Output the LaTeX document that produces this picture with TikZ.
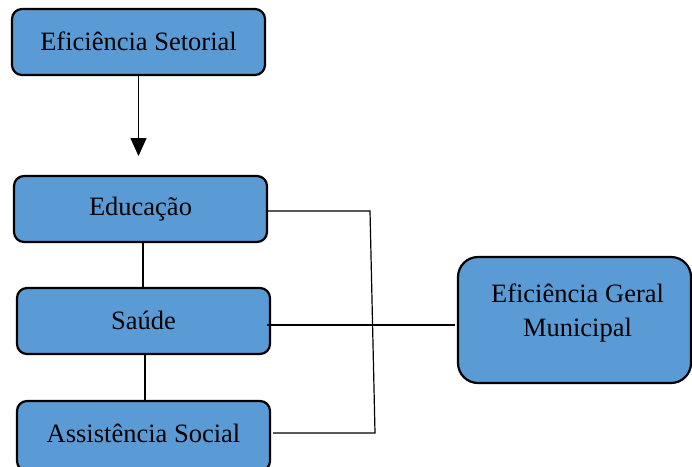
\documentclass[tikz,border=0pt]{standalone}
\usepackage{fontspec}
\setmainfont{Liberation Serif}
\usetikzlibrary{arrows.meta}
\definecolor{boxblue}{HTML}{5B9BD5}
\begin{document}
\begin{tikzpicture}[x=1pt,y=1pt,
  bluebox/.style={draw=black,fill=boxblue,line width=2.2pt,rounded corners=10pt,
    minimum width=253pt,minimum height=66pt,inner sep=0pt,font=\fontsize{26.5}{34}\selectfont},
  conn/.style={draw=black,line width=1.2pt}]
\useasboundingbox (0,0) rectangle (692,-466);
\node[bluebox] (setor) at (138.5,-42) {\raisebox{2pt}{Eficiência Setorial}};
\node[bluebox] (edu) at (140.5,-209) {\raisebox{2pt}{Educação}};
\node[bluebox] (saude) at (143.5,-321) {\raisebox{2pt}{Saúde}};
\node[bluebox,minimum height=70pt] (assist) at (143.5,-436) {\raisebox{6pt}{Assistência Social}};
\node[bluebox,minimum width=233pt,minimum height=126pt,rounded corners=20pt,
  label={[align=center,yshift=7pt,xshift=3pt,font=\fontsize{26.5}{34}\selectfont]center:Eficiência Geral\\Municipal}] (geral) at (574.5,-320) {};
% arrow
\coordinate (arrEnd) at (138.5,-156);
\draw[conn,-{Triangle[length=18pt,width=16pt]}] (setor.south) -- (arrEnd);
% vertical links
\coordinate (es) at (143,-242);
\coordinate (sn) at (143,-288);
\coordinate (ss) at (145,-354);
\coordinate (an) at (145,-401);
\draw[conn] (es) -- (sn);
\draw[conn] (ss) -- (an);
% bracket
\coordinate (e1) at (267,-211);
\coordinate (b1) at (370,-211);
\coordinate (b2) at (375,-433);
\coordinate (a1) at (273,-433);
\draw[conn] (e1) -- (b1) -- (b2) -- (a1);
\coordinate (s1) at (267,-325);
\coordinate (g1) at (455,-325);
\draw[conn] (s1) -- (g1);
\end{tikzpicture}
\end{document}
